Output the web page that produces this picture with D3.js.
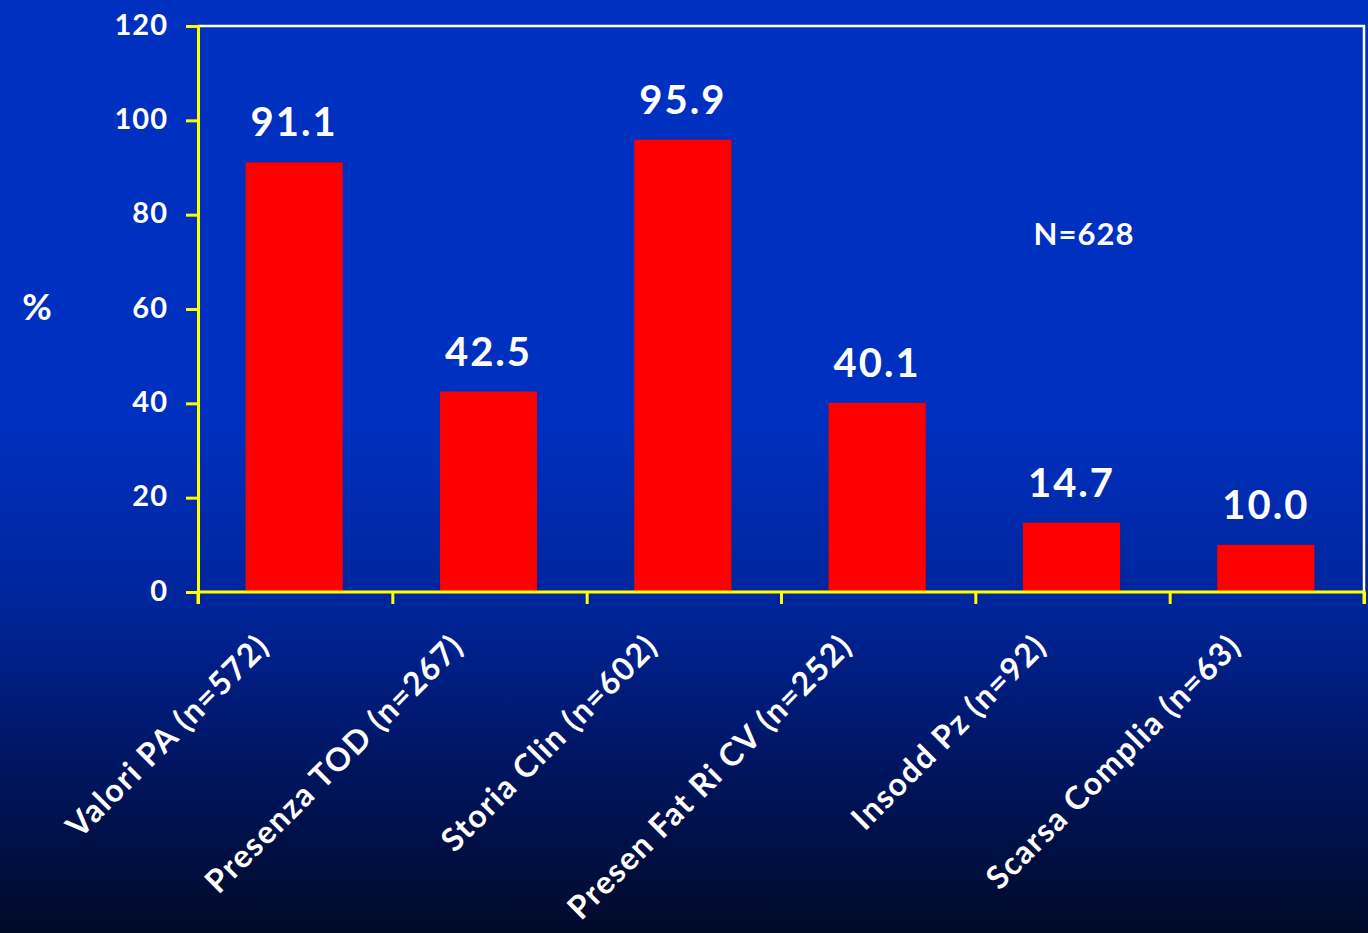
<!DOCTYPE html>
<html><head><meta charset="utf-8">
<script src="https://cdn.jsdelivr.net/npm/d3@7"></script>
<style>html,body{margin:0;padding:0;overflow:hidden;background:#000a2a}</style>
</head><body>
<svg id="chart" width="1368" height="933"></svg>
<script>
const categories = ["Valori PA (n=572)","Presenza TOD (n=267)","Storia Clin (n=602)","Presen Fat Ri CV (n=252)","Insodd Pz (n=92)","Scarsa Complia (n=63)"];
const values = [91.1, 42.5, 95.9, 40.1, 14.7, 10.0];
const valueLabels = ["91.1","42.5","95.9","40.1","14.7","10.0"];
const yTicks = [0,20,40,60,80,100,120];
const annotation = "N=628";
const yTitle = "%";

(function(){
const svg = d3.select("#chart");
const W = 1368, H = 933;
const defs = svg.append("defs");
const g = defs.append("linearGradient").attr("id","bg").attr("x1",0).attr("y1",0).attr("x2",0).attr("y2",1);
g.append("stop").attr("offset","0%").attr("stop-color","#0030c0");
g.append("stop").attr("offset","45%").attr("stop-color","#0030c0");
g.append("stop").attr("offset","65%").attr("stop-color","#00259a");
g.append("stop").attr("offset","82%").attr("stop-color","#001560");
g.append("stop").attr("offset","100%").attr("stop-color","#000a28");
svg.append("rect").attr("width",W).attr("height",H).attr("fill","url(#bg)");

const mLeft = 198, mRight = 1364, mTop = 26, mBottom = 592;
const x = d3.scaleBand().domain(categories).range([mLeft, mRight]).paddingInner(0.5).paddingOuter(0.25);
const y = d3.scaleLinear().domain([0,120]).range([mBottom, mTop]);
const font = "Lato, 'DejaVu Sans', sans-serif";

svg.append("path").attr("d",`M${mLeft},${mTop}H${mRight}V${mBottom}`).attr("fill","none").attr("stroke","#ffffff").attr("stroke-width",2.5);

svg.selectAll("rect.bar").data(values).join("rect").attr("class","bar")
  .attr("x",(d,i)=>x(categories[i])-1).attr("width",x.bandwidth())
  .attr("y",d=>y(d)).attr("height",d=>y(0)-y(d)).attr("fill","#ff0000");

svg.selectAll("text.val").data(values).join("text").attr("class","val")
  .attr("x",(d,i)=>x(categories[i])+x.bandwidth()/2-1)
  .attr("y",d=>y(d)-26)
  .attr("text-anchor","middle").attr("fill","#ffffff")
  .style("font-family",font).style("font-weight","bold").style("font-size","40px").style("letter-spacing","2px")
  .text((d,i)=>valueLabels[i]);

const yAxis = d3.axisLeft(y).tickValues(yTicks).tickSize(12).tickPadding(18).tickFormat(d3.format("d"));
const ya = svg.append("g").attr("transform",`translate(${mLeft},0)`).call(yAxis);
ya.select(".domain").attr("stroke","#ffff00").attr("stroke-width",3);
ya.selectAll(".tick line").attr("stroke","#ffff00").attr("stroke-width",3);
ya.selectAll(".tick text").attr("fill","#ffffff").style("font-family",font).style("font-weight","bold").style("font-size","29px").style("letter-spacing","1px").attr("dy","0.28em");

const xEdge = d3.scaleLinear().domain([0,categories.length]).range([mLeft,mRight]);
const xAxis = d3.axisBottom(xEdge).tickValues(d3.range(categories.length+1)).tickSize(12).tickFormat("");
const xa = svg.append("g").attr("transform",`translate(0,${mBottom})`).call(xAxis);
xa.select(".domain").attr("stroke","#ffff00").attr("stroke-width",3).attr("d",`M${mLeft},12V0H${mRight}V12`);
xa.selectAll(".tick line").attr("stroke","#ffff00").attr("stroke-width",3);

svg.selectAll("text.cat").data(categories).join("text").attr("class","cat")
  .attr("transform",d=>`translate(${x(d)+x.bandwidth()/2-24},${648}) rotate(-45)`)
  .attr("text-anchor","end").attr("fill","#ffffff")
  .style("font-family",font).style("font-weight","bold").style("font-size","32px").style("letter-spacing","1.4px")
  .text(d=>d);

svg.append("text").attr("x",1084).attr("y",245).attr("text-anchor","middle").attr("fill","#ffffff")
  .style("font-family",font).style("font-weight","bold").style("font-size","31px").style("letter-spacing","1px").text(annotation);
svg.append("text").attr("x",37).attr("y",320).attr("text-anchor","middle").attr("fill","#ffffff")
  .style("font-family",font).style("font-weight","bold").style("font-size","36px").text(yTitle);
})();
</script>
</body></html>
